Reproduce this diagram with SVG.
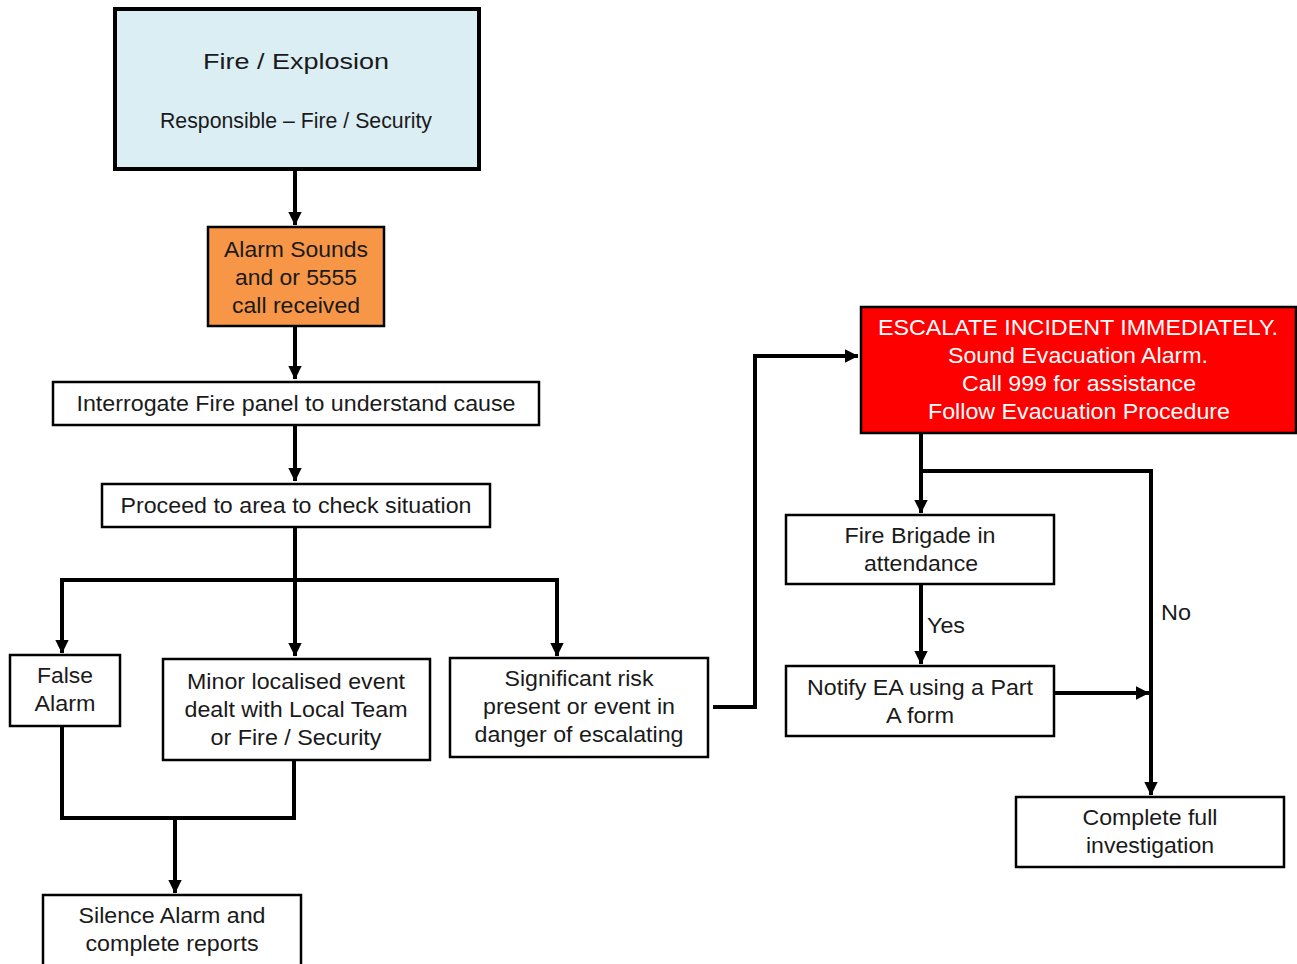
<svg xmlns="http://www.w3.org/2000/svg" width="1297" height="964" viewBox="0 0 1297 964">
  <style>
    .box { fill: #ffffff; stroke: #000000; stroke-width: 2.5; }
    .t { font-family: "Liberation Sans", Arial, sans-serif; font-size: 22px; fill: #1a1a1a; text-anchor: middle; }
    .w { fill: #ffffff; }
    .lbl { font-family: "Liberation Sans", Arial, sans-serif; font-size: 22px; fill: #1a1a1a; }
    .c { fill: none; stroke: #000000; stroke-width: 4; }
  </style>
  <defs>
    <marker id="arr" markerWidth="4" markerHeight="4" refX="3.3" refY="2" orient="auto" markerUnits="strokeWidth">
      <path d="M0,0.3 L3.4,2 L0,3.7 Z" fill="#000000"/>
    </marker>
  </defs>
  <rect width="1297" height="964" fill="#ffffff"/>

  <!-- connectors -->
  <g id="connectors">
    <line class="c" x1="295" y1="169" x2="295" y2="225" marker-end="url(#arr)"/>
    <line class="c" x1="295" y1="326" x2="295" y2="379" marker-end="url(#arr)"/>
    <line class="c" x1="295" y1="425" x2="295" y2="481" marker-end="url(#arr)"/>
    <line class="c" x1="295" y1="527" x2="295" y2="656" marker-end="url(#arr)"/>
    <!-- branch bar: False Alarm on the left, Significant risk on the right -->
    <polyline class="c" points="60,580 557,580 557,656" marker-end="url(#arr)"/>
    <line class="c" x1="62" y1="578" x2="62" y2="653" marker-end="url(#arr)"/>
    <polyline class="c" points="713,707 755,707 755,356 858,356" marker-end="url(#arr)"/>
    <line class="c" x1="921" y1="433" x2="921" y2="513" marker-end="url(#arr)"/>
    <polyline class="c" points="923,471 1151,471 1151,795" marker-end="url(#arr)"/>
    <line class="c" x1="921" y1="584" x2="921" y2="664" marker-end="url(#arr)"/>
    <line class="c" x1="1054" y1="693" x2="1149" y2="693" marker-end="url(#arr)"/>
    <polyline class="c" points="62,726 62,818 294,818 294,757"/>
    <line class="c" x1="175" y1="818" x2="175" y2="893" marker-end="url(#arr)"/>
    <text class="lbl" x="927" y="633" textLength="38" lengthAdjust="spacingAndGlyphs">Yes</text>
    <text class="lbl" x="1161" y="620" textLength="30" lengthAdjust="spacingAndGlyphs">No</text>
  </g>

  <g id="fire-explosion">
    <rect x="115" y="9" width="364" height="160" fill="#dbeef4" stroke="#000000" stroke-width="4"/>
    <text class="t" x="296" y="69" font-size="24" textLength="186" lengthAdjust="spacingAndGlyphs">Fire / Explosion</text>
    <text class="t" x="296" y="128" font-size="20" textLength="272" lengthAdjust="spacingAndGlyphs">Responsible – Fire / Security</text>
  </g>

  <g id="alarm-sounds">
    <rect x="208" y="227" width="176" height="99" fill="#f79646" stroke="#000000" stroke-width="2.5"/>
    <text class="t" x="296" y="257" textLength="144" lengthAdjust="spacingAndGlyphs">Alarm Sounds</text>
    <text class="t" x="296" y="285" textLength="122" lengthAdjust="spacingAndGlyphs">and or 5555</text>
    <text class="t" x="296" y="313" textLength="128" lengthAdjust="spacingAndGlyphs">call received</text>
  </g>

  <g id="interrogate">
    <rect class="box" x="53" y="382" width="486" height="43"/>
    <text class="t" x="296" y="411" textLength="439" lengthAdjust="spacingAndGlyphs">Interrogate Fire panel to understand cause</text>
  </g>

  <g id="proceed">
    <rect class="box" x="102" y="484" width="388" height="43"/>
    <text class="t" x="296" y="513" textLength="351" lengthAdjust="spacingAndGlyphs">Proceed to area to check situation</text>
  </g>

  <g id="false-alarm">
    <rect class="box" x="10" y="655" width="110" height="71"/>
    <text class="t" x="65" y="683" textLength="56" lengthAdjust="spacingAndGlyphs">False</text>
    <text class="t" x="65" y="711" textLength="61" lengthAdjust="spacingAndGlyphs">Alarm</text>
  </g>

  <g id="minor-event">
    <rect class="box" x="163" y="659" width="267" height="101"/>
    <text class="t" x="296" y="689" textLength="218" lengthAdjust="spacingAndGlyphs">Minor localised event</text>
    <text class="t" x="296" y="717" textLength="223" lengthAdjust="spacingAndGlyphs">dealt with Local Team</text>
    <text class="t" x="296" y="745" textLength="171" lengthAdjust="spacingAndGlyphs">or Fire / Security</text>
  </g>

  <g id="significant-risk">
    <rect class="box" x="450" y="658" width="258" height="99"/>
    <text class="t" x="579" y="686" textLength="149" lengthAdjust="spacingAndGlyphs">Significant risk</text>
    <text class="t" x="579" y="714" textLength="192" lengthAdjust="spacingAndGlyphs">present or event in</text>
    <text class="t" x="579" y="742" textLength="209" lengthAdjust="spacingAndGlyphs">danger of escalating</text>
  </g>

  <g id="escalate">
    <rect x="861" y="307" width="435" height="126" fill="#ff0000" stroke="#000000" stroke-width="2.5"/>
    <text class="t w" x="1078" y="335" textLength="400" lengthAdjust="spacingAndGlyphs">ESCALATE INCIDENT IMMEDIATELY.</text>
    <text class="t w" x="1078" y="363" textLength="260" lengthAdjust="spacingAndGlyphs">Sound Evacuation Alarm.</text>
    <text class="t w" x="1079" y="391" textLength="234" lengthAdjust="spacingAndGlyphs">Call 999 for assistance</text>
    <text class="t w" x="1079" y="419" textLength="302" lengthAdjust="spacingAndGlyphs">Follow Evacuation Procedure</text>
  </g>

  <g id="fire-brigade">
    <rect class="box" x="786" y="515" width="268" height="69"/>
    <text class="t" x="920" y="543" textLength="151" lengthAdjust="spacingAndGlyphs">Fire Brigade in</text>
    <text class="t" x="921" y="571" textLength="114" lengthAdjust="spacingAndGlyphs">attendance</text>
  </g>

  <g id="notify-ea">
    <rect class="box" x="786" y="666" width="268" height="70"/>
    <text class="t" x="920" y="695" textLength="226" lengthAdjust="spacingAndGlyphs">Notify EA using a Part</text>
    <text class="t" x="920" y="723" textLength="68" lengthAdjust="spacingAndGlyphs">A form</text>
  </g>

  <g id="complete-investigation">
    <rect class="box" x="1016" y="797" width="268" height="70"/>
    <text class="t" x="1150" y="825" textLength="135" lengthAdjust="spacingAndGlyphs">Complete full</text>
    <text class="t" x="1150" y="853" textLength="128" lengthAdjust="spacingAndGlyphs">investigation</text>
  </g>

  <g id="silence-alarm">
    <rect class="box" x="43" y="895" width="258" height="75"/>
    <text class="t" x="172" y="923" textLength="187" lengthAdjust="spacingAndGlyphs">Silence Alarm and</text>
    <text class="t" x="172" y="951" textLength="173" lengthAdjust="spacingAndGlyphs">complete reports</text>
  </g>
</svg>
